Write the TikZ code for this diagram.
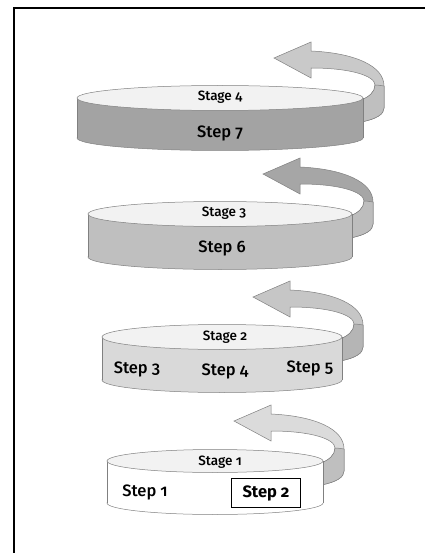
\documentclass[tikz,border=0pt]{standalone}
\usepackage{fontspec}
\setmainfont{Fira Sans}[Numbers=OldStyle, UprightFont=* Medium, BoldFont=* Bold]
\usepackage{tikz}
\usetikzlibrary{shapes, arrows}
\usepackage{xcolor}

\definecolor{disktop}{gray}{0.95}
\definecolor{edgegray}{gray}{0.5}

% one cylinder: centre x, centre y of top, half width, half height of ellipse, side height, side colour
\newcommand{\stagedisk}[6]{
	\fill[#6] (#1-#3,#2) rectangle (#1+#3,#2+#5);
	\draw[edgegray, fill=#6] (#1,#2+#5) ellipse (#3 and #4);
	\fill[#6] (#1-#3,#2) rectangle (#1+#3,#2+#5);
	\draw[edgegray] (#1-#3,#2) -- (#1-#3,#2+#5) (#1+#3,#2) -- (#1+#3,#2+#5);
	\draw[edgegray, fill=disktop] (#1,#2) ellipse (#3 and #4);
}

% ribbon arrow that turns back over a cylinder: right end x, y, colour, colour of the lower turn
\newcommand{\turnarrow}[4]{
	\begin{scope}[shift={(#1,#2)}]
	\draw[edgegray, fill=#3] (-89,-40) -- (-52,-56) -- (-52,-47) .. controls (-8,-45) and (21,-32) .. (21,-12) -- (21,10) .. controls (21,16) and (14,21) .. (-2,24) -- (-2,2) .. controls (6,-1) and (12,-6) .. (12,-13) .. controls (12,-22) and (-12,-30) .. (-52,-30) -- (-52,-20) -- cycle;
	\draw[edgegray, fill=#4] (12,-13) .. controls (15,-13) and (18,-12.5) .. (21,-12) -- (21,10) .. controls (21,16) and (14,21) .. (-2,24) -- (-2,2) .. controls (6,-1) and (12,-6) .. (12,-13);
	\end{scope}
}

\begin{document}
\begin{tikzpicture}[x=1pt, y=-1pt, line width=0.5pt]

	\tikzstyle{stagelabel} = [inner sep=1pt, font=\fontsize{13.5}{15}\selectfont]
	\tikzstyle{steplabel} = [inner sep=1pt, font=\fontsize{16.5}{18}\selectfont]
	\tikzstyle{stepbox} = [draw=black, line width=0.8pt, minimum width=69pt, minimum height=29pt, inner sep=2pt, font=\fontsize{16.5}{18}\selectfont\bfseries]

	\useasboundingbox (0,0) rectangle (425,553);
	\draw[line width=1.3pt] (14,553) -- (14,8) -- (425,8);

	% arrows first, cylinders on top of their ends
	\turnarrow{363}{98}{gray!42}{gray!50}
	\turnarrow{352}{214}{gray!70}{gray!52}
	\turnarrow{342}{337}{gray!45}{gray!58}
	\turnarrow{323}{461}{gray!28}{gray!50}

	\stagedisk{220}{98}{143}{12.5}{40}{gray!72}
	\stagedisk{220}{214}{132}{12.5}{43}{gray!50}
	\stagedisk{222}{337}{120}{12.5}{43}{gray!30}
	\stagedisk{215}{461}{108}{11.5}{42}{white}

	\node[stagelabel] (stage 4) at (220,97) {Stage 4};
	\node[steplabel] (step 7) at (220,133) {Step 7};

	\node[stagelabel] (stage 3) at (224,213) {Stage 3};
	\node[steplabel] (step 6) at (222,248) {Step 6};

	\node[stagelabel] (stage 2) at (225,337) {Stage 2};
	\node[steplabel] (step 3) at (137,369) {Step 3};
	\node[steplabel] (step 4) at (225,371) {Step 4};
	\node[steplabel] (step 5) at (310,368) {Step 5};

	\node[stagelabel] (stage 1) at (220,462) {Stage 1};
	\node[steplabel] (step 1) at (145,492) {Step 1};
	\node[stepbox] (step 2) at (266,493) {Step 2};

\end{tikzpicture}
\end{document}
